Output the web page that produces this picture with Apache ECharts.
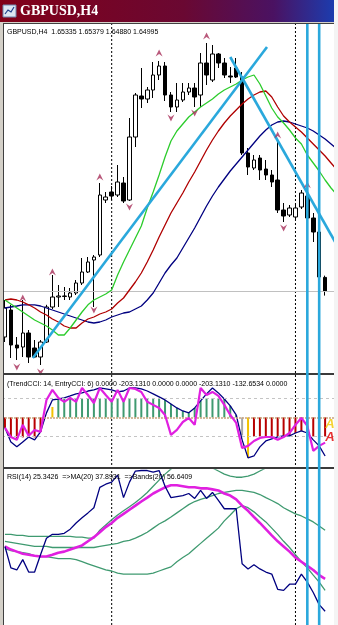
<!DOCTYPE html>
<html>
<head>
<meta charset="utf-8">
<title>GBPUSD,H4</title>
<script src="https://cdn.jsdelivr.net/npm/echarts@6/dist/echarts.min.js"></script>
<style>
  html, body { margin: 0; padding: 0; background: #fff; }
  #chart { width: 338px; height: 625px; }
</style>
</head>
<body>
<div id="chart"></div>
<script>
// 55 H4 bars, one empty slot on the right
const slotCount = 56

const candleOpen = [1.63845, 1.6452, 1.63645, 1.63595, 1.63945, 1.6357, 1.63345, 1.6372, 1.64595, 1.64845,
  1.6487, 1.64845, 1.64945, 1.65195, 1.6547, 1.6577, 1.65895, 1.6727, 1.6747, 1.67395,
  1.67695, 1.6727, 1.68845, 1.6987, 1.69795, 1.7002, 1.70395, 1.7062, 1.69895, 1.69595,
  1.6977, 1.6997, 1.7007, 1.69895, 1.70695, 1.7027, 1.7092, 1.70695, 1.7037, 1.7057,
  1.70345, 1.68445, 1.6807, 1.6832, 1.68045, 1.67895, 1.6777, 1.6702, 1.66895, 1.66845,
  1.67095, 1.6737, 1.6682, 1.6647, 1.65335]
const candleClose = [1.6457, 1.63645, 1.6357, 1.63945, 1.63345, 1.63345, 1.6372, 1.64595, 1.64845, 1.6487,
  1.6486, 1.64945, 1.65195, 1.6547, 1.6572, 1.65845, 1.67395, 1.67345, 1.6737, 1.6772,
  1.67245, 1.68845, 1.69895, 1.69795, 1.7002, 1.70395, 1.7062, 1.69895, 1.69595, 1.6977,
  1.6997, 1.7007, 1.69845, 1.70695, 1.70395, 1.7092, 1.70695, 1.70395, 1.70345, 1.70345,
  1.68445, 1.68095, 1.6827, 1.6802, 1.67895, 1.6772, 1.6702, 1.6687, 1.6707, 1.6707,
  1.67445, 1.6682, 1.6647, 1.65345, 1.64995]
const candleLow = [1.6372, 1.6332, 1.6327, 1.63345, 1.63195, 1.6332, 1.63145, 1.63695, 1.64545, 1.64595,
  1.6477, 1.6477, 1.64895, 1.65145, 1.65445, 1.64595, 1.65845, 1.67195, 1.6727, 1.67345,
  1.67195, 1.67245, 1.68595, 1.6957, 1.69695, 1.6982, 1.7027, 1.69745, 1.6947, 1.6947,
  1.6972, 1.69895, 1.69595, 1.69595, 1.70145, 1.7022, 1.7057, 1.7032, 1.70195, 1.7032,
  1.68395, 1.67895, 1.6802, 1.6777, 1.6777, 1.67595, 1.66945, 1.6672, 1.66845, 1.66795,
  1.67045, 1.6677, 1.6622, 1.65295, 1.6488]
const candleHigh = [1.6477, 1.6465, 1.63845, 1.6477, 1.6402, 1.6377, 1.6377, 1.6465, 1.65395, 1.65145,
  1.65095, 1.6507, 1.6527, 1.6582, 1.65845, 1.65895, 1.67695, 1.6747, 1.6762, 1.68145,
  1.67845, 1.6932, 1.69945, 1.7057, 1.70095, 1.7072, 1.70745, 1.7072, 1.6997, 1.70195,
  1.70195, 1.70195, 1.70195, 1.70945, 1.71195, 1.71145, 1.70945, 1.7082, 1.70595, 1.7082,
  1.7047, 1.6857, 1.68395, 1.68395, 1.6827, 1.6802, 1.6872, 1.67195, 1.67145, 1.67195,
  1.6752, 1.6747, 1.66945, 1.6652, 1.65379]

// alligator lines (shifted forward, so they run past the last bar)
const jawBlue = [1.6457, 1.64595, 1.6462, 1.6465, 1.6465, 1.6465, 1.6462, 1.6457, 1.6452, 1.6447,
  1.6442, 1.6437, 1.6432, 1.6427, 1.6422, 1.64195, 1.6422, 1.6427, 1.64345, 1.64395,
  1.64445, 1.6447, 1.64545, 1.6462, 1.6477, 1.64945, 1.65195, 1.65445, 1.65645, 1.6582,
  1.6607, 1.6632, 1.6657, 1.66845, 1.6712, 1.6737, 1.67595, 1.67795, 1.67995, 1.6817,
  1.68345, 1.6852, 1.68695, 1.6887, 1.6902, 1.69145, 1.6922, 1.69245, 1.6922, 1.6917,
  1.6912, 1.6907, 1.68995, 1.68895, 1.68795, 1.6867, 1.68545]
const teethRed = [1.6477, 1.64795, 1.6477, 1.6472, 1.6465, 1.6457, 1.6447, 1.64395, 1.64295, 1.6422,
  1.6412, 1.6407, 1.6407, 1.64195, 1.64295, 1.64345, 1.6442, 1.6447, 1.64545, 1.64695,
  1.6482, 1.6502, 1.6522, 1.65445, 1.6572, 1.6602, 1.66345, 1.66645, 1.66945, 1.67195,
  1.67445, 1.6772, 1.6797, 1.68245, 1.6852, 1.6877, 1.68995, 1.69195, 1.6937, 1.6952,
  1.6967, 1.69795, 1.69895, 1.6997, 1.69995, 1.69845, 1.69595, 1.6937, 1.6922, 1.69095,
  1.6897, 1.6882, 1.6867, 1.6852, 1.6837, 1.68195, 1.6802]
const lipsGreen = [1.6477, 1.6467, 1.6457, 1.6447, 1.6437, 1.6427, 1.64195, 1.6412, 1.6402, 1.63895,
  1.63895, 1.6407, 1.6427, 1.6447, 1.6465, 1.6477, 1.64845, 1.6492, 1.6502, 1.65395,
  1.6572, 1.6602, 1.6632, 1.6662, 1.6707, 1.6747, 1.67895, 1.68345, 1.68745, 1.68995,
  1.6917, 1.69345, 1.6947, 1.69595, 1.69695, 1.69795, 1.6992, 1.7002, 1.70095, 1.7017,
  1.7027, 1.70345, 1.70395, 1.7017, 1.6987, 1.6957, 1.69345, 1.69195, 1.6902, 1.6882,
  1.6867, 1.68395, 1.68195, 1.67995, 1.6777, 1.6757, 1.67395]

const trendLineUp = [[4.7, 1.6332], [44.2, 1.71095]]
const trendLineDown = [[38.0, 1.70845], [55.7, 1.6622]]

const fractalUpBar = [3, 8, 16, 26, 34, 46, 51]
const fractalUpPrice = [1.6482, 1.6547, 1.67845, 1.70945, 1.7137, 1.68895, 1.6765]
const fractalDownBar = [2, 6, 15, 21, 28, 32, 47]
const fractalDownPrice = [1.63095, 1.6297, 1.6452, 1.67095, 1.6932, 1.69445, 1.6657]

const bidPrice = 1.64995
const periodSeparators = [18, 49]
const cyanVerticals = [51, 53]

// TrendCCI(14) / EntryCCI(6)
const cciTrend = [-55, -129, -155, -129, -103, -118, -76, 24, 92, 97,
  103, 113, 124, 129, 139, 145, 155, 150, 145, 134,
  139, 155, 155, 150, 139, 124, 108, 92, 71, 50,
  34, 24, 50, 87, 124, 155, 129, 97, 61, 13,
  -118, -213, -203, -155, -124, -113, -103, -97, -97, -82,
  -71, -82, -118, -150, -203.131]
const cciEntry = [-55, -103, -118, -39, -97, -66, -76, 92, 145, 103,
  82, 103, 82, 155, 118, 76, 155, 118, 82, 145,
  82, 155, 150, 134, 82, 66, 50, 13, -92, -66,
  -24, -3, -39, 155, 118, 134, 113, 66, 13, -29,
  -161, -150, -124, -108, -103, -103, -118, -103, -82, -39,
  -3, -45, -176, -150, -132.6534]
const cciHist = [-55, -105, -110, -105, -100, -105, -76, 0, 55, 97,
  100, 100, 100, 100, 100, 100, 100, 100, 100, 100,
  100, 100, 100, 100, 100, 100, 100, 92, 71, 50,
  34, 24, 50, 87, 100, 100, 100, 97, 61, 13,
  -95, -213, -100, -100, -100, -100, -100, -97, -97, -82,
  -71, -82, -100, -100, -100]
// R = down, G = up, Y = turning, N = neutral
const cciHistState = 'RRRRRRRRYGGGGGGGGGGGGGGGGGGGGGGGGGGGGGGGNYRRRRRRRRRRRRR'.split('')
const cciLevels = [100, -100]
const cciTextMarks = [
  { bar: 54.8, value: -39, color: '#f2c800' },
  { bar: 54.8, value: -105, color: '#e00000' }
]

// RSI(14) with MA(20) and bands(20)
const rsi = [50.4, 42.1, 41.3, 45.3, 40.5, 40.5, 47.2, 53.6, 55.1, 55.1,
  55.5, 57.1, 59.5, 61.5, 63.4, 65.4, 73.3, 74.5, 75.3, 78.0,
  69.3, 75.3, 79.6, 79.8, 79.8, 79.2, 79.8, 73.7, 69.3, 69.7,
  70.1, 70.9, 69.0, 72.1, 69.0, 71.3, 68.2, 65.0, 65.0, 65.0,
  43.7, 41.7, 43.3, 41.7, 40.5, 39.7, 33.8, 33.4, 35.8, 35.8,
  39.7, 36.6, 32.6, 27.9, 25.3426]
const rsiMa = [50.4, 49.2, 48.4, 47.6, 47.2, 46.8, 46.5, 46.5, 47.2, 48.0,
  48.4, 49.2, 50.0, 50.8, 52.4, 54.0, 55.9, 57.9, 59.5, 61.5,
  63.0, 64.6, 66.2, 67.8, 69.3, 70.9, 72.1, 73.3, 74.1, 74.1,
  73.7, 73.3, 73.3, 72.9, 72.9, 72.5, 72.1, 70.9, 70.1, 68.6,
  66.2, 64.2, 61.8, 59.5, 57.1, 54.7, 52.4, 50.4, 48.4, 46.1,
  44.5, 42.9, 41.3, 39.3, 37.8931]
const bandUpper = [55.1, 55.1, 54.7, 54.7, 54.3, 54.3, 54.3, 54.3, 54.3, 54.3,
  54.3, 54.3, 54.0, 54.0, 53.6, 53.6, 56.7, 58.7, 60.7, 62.6,
  64.2, 65.8, 67.4, 69.3, 71.3, 73.7, 76.1, 78.4, 80.4, 82.0,
  83.2, 84.0, 84.0, 83.2, 82.0, 80.8, 79.6, 78.4, 77.6, 77.2,
  77.2, 77.6, 78.4, 79.6, 80.8, 82.0, 83.2, 84.0, 84.4, 84.7,
  84.7, 84.4, 83.6, 82.4, 81.2]
const bandMiddle = [52.4, 52.0, 51.6, 51.2, 50.8, 50.4, 50.4, 50.4, 50.0, 50.0,
  50.0, 50.0, 50.0, 50.0, 50.0, 50.0, 50.4, 50.8, 51.2, 51.6,
  52.4, 52.8, 53.6, 54.7, 55.9, 57.5, 59.1, 60.3, 61.8, 63.4,
  65.0, 66.6, 67.8, 68.6, 69.3, 70.1, 70.9, 71.3, 71.7, 72.1,
  72.1, 71.7, 71.3, 70.5, 69.3, 68.2, 67.0, 65.4, 64.2, 63.0,
  62.2, 61.1, 59.9, 58.3, 56.6409]
const bandLower = [49.6, 48.8, 48.4, 48.0, 47.6, 46.8, 46.5, 46.5, 46.1, 45.7,
  45.7, 45.7, 45.3, 44.5, 43.7, 42.9, 42.1, 41.3, 40.9, 40.1,
  39.7, 39.7, 39.7, 39.7, 39.7, 40.1, 40.9, 41.7, 42.5, 44.5,
  46.1, 47.6, 49.6, 51.6, 53.6, 55.5, 57.5, 60.3, 62.6, 65.0,
  66.2, 65.4, 63.8, 61.8, 59.9, 57.5, 55.1, 52.4, 50.0, 47.2,
  44.5, 42.1, 39.3, 36.6, 33.4]

const mainLabel = 'GBPUSD,H4  1.65335 1.65379 1.64880 1.64995'
const cciLabel = '(TrendCCI: 14, EntryCCI: 6) 0.0000 -203.1310 0.0000 0.0000 -203.1310 -132.6534 0.0000'
const rsiLabel = 'RSI(14) 25.3426  =>MA(20) 37.8931  =>Bands(20) 56.6409'

const chart = echarts.init(document.getElementById('chart'), null, { renderer: 'canvas' })

const FONT = '"Liberation Sans", Arial, sans-serif'
const slots = Array.from({ length: slotCount }, (_, i) => String(i))
const pairs = arr => arr.map((v, i) => [i, v])

const histColors = { R: '#b80000', G: '#3f9a70', Y: '#f2c200', N: '#a8a8a8' }

const valueX = (gridIndex) => ({
  type: 'value', gridIndex, min: -0.5, max: slotCount - 0.5, show: false
})
const catX = (gridIndex) => ({
  type: 'category', gridIndex, data: slots, boundaryGap: true, show: false
})

const line = (data, xAxisIndex, yAxisIndex, color, width, z) => ({
  type: 'line', xAxisIndex, yAxisIndex, data, symbol: 'none', silent: true,
  z: z || 3,
  lineStyle: { color, width }
})

const vertical = (x, style, z) => ({
  type: 'line', xAxisIndex: 5, yAxisIndex: 3, z, silent: true,
  data: [[x, 0], [x, 1]], symbol: 'none', lineStyle: style
})

const option = {
  animation: false,
  backgroundColor: '#ffffff',
  grid: [
    { left: 2, width: 332, top: 25, height: 348 },
    { left: 2, width: 332, top: 376, height: 91 },
    { left: 2, width: 332, top: 470, height: 155 },
    { left: 2, width: 332, top: 24, height: 601 }
  ],
  xAxis: [catX(0), valueX(0), catX(1), valueX(1), valueX(2), valueX(3)],
  yAxis: [
    { type: 'value', gridIndex: 0, min: 1.62945, max: 1.71645, show: false },
    { type: 'value', gridIndex: 1, min: -261, max: 218, show: false },
    { type: 'value', gridIndex: 2, min: 20, max: 80, show: false },
    { type: 'value', gridIndex: 3, min: 0, max: 1, show: false }
  ],
  series: [
    // main window
    {
      type: 'candlestick', xAxisIndex: 0, yAxisIndex: 0, barWidth: 4, z: 4,
      data: candleOpen.map((o, i) => [o, candleClose[i], candleLow[i], candleHigh[i]]),
      itemStyle: { color: '#ffffff', color0: '#000000', borderColor: '#000000', borderColor0: '#000000', borderWidth: 1 },
      markLine: {
        silent: true, symbol: 'none', label: { show: false },
        lineStyle: { color: '#c0c0c0', type: 'solid', width: 1 },
        data: [{ yAxis: bidPrice }]
      }
    },
    line(pairs(jawBlue), 1, 0, '#000080', 1.3, 5),
    line(pairs(teethRed), 1, 0, '#b00000', 1.3, 5),
    line(pairs(lipsGreen), 1, 0, '#2ccc2c', 1.3, 5),
    line(trendLineUp, 1, 0, '#2aa8dc', 2.6, 6),
    line(trendLineDown, 1, 0, '#2aa8dc', 2.6, 6),
    {
      type: 'scatter', xAxisIndex: 1, yAxisIndex: 0, z: 6, silent: true,
      symbol: 'path://M5,0 L10,10 L5,6.5 L0,10 Z', symbolSize: [7, 7],
      itemStyle: { color: '#a8305a' },
      data: fractalUpBar.map((b, i) => [b, fractalUpPrice[i]])
    },
    {
      type: 'scatter', xAxisIndex: 1, yAxisIndex: 0, z: 6, silent: true,
      symbol: 'path://M0,0 L5,3.5 L10,0 L5,10 Z', symbolSize: [7, 7],
      itemStyle: { color: '#a8305a' },
      data: fractalDownBar.map((b, i) => [b, fractalDownPrice[i]])
    },

    // TrendCCI window
    {
      type: 'bar', xAxisIndex: 2, yAxisIndex: 1, barWidth: 2, z: 3, silent: true,
      data: cciHist.map((v, i) => ({ value: v, itemStyle: { color: histColors[cciHistState[i]] } })),
      markLine: {
        silent: true, symbol: 'none', label: { show: false },
        data: [
          ...cciLevels.map(v => ({ yAxis: v, lineStyle: { color: '#c4c4c4', type: [3, 3], width: 1 } })),
          { yAxis: 0, lineStyle: { color: '#c8a47c', type: [2, 1], width: 1.5 } }
        ]
      }
    },
    line(pairs(cciTrend), 3, 1, '#000080', 1.3, 4),
    line(pairs(cciEntry), 3, 1, '#e020e0', 2.2, 5),
    {
      type: 'scatter', xAxisIndex: 3, yAxisIndex: 1, z: 7, silent: true, symbolSize: 0,
      data: cciTextMarks.map(m => ({
        value: [m.bar, m.value],
        label: {
          show: true, position: 'inside', formatter: 'A', color: m.color,
          fontFamily: FONT, fontWeight: 'bold', fontStyle: 'italic', fontSize: 13
        }
      }))
    },

    // RSI window
    line(pairs(bandUpper), 4, 2, '#3f9a70', 1.3, 3),
    line(pairs(bandMiddle), 4, 2, '#3f9a70', 1.3, 3),
    line(pairs(bandLower), 4, 2, '#3f9a70', 1.3, 3),
    line(pairs(rsiMa), 4, 2, '#e020e0', 2.6, 4),
    line(pairs(rsi), 4, 2, '#000080', 1.3, 5),

    // separators and marker lines across all windows
    ...periodSeparators.map(x => vertical(x, { color: '#000000', width: 1, type: [2, 2] }, 2)),
    ...cyanVerticals.map(x => vertical(x, { color: '#2aa8dc', width: 2.6 }, 10))
  ],
  graphic: [
    // window caption
    {
      type: 'rect', z: 30, shape: { x: 0, y: 0, width: 334, height: 22 },
      style: {
        fill: new echarts.graphic.LinearGradient(0, 0, 1, 0, [
          { offset: 0, color: '#820018' },
          { offset: 0.55, color: '#6a0832' },
          { offset: 0.82, color: '#4a1262' },
          { offset: 1, color: '#1c3cae' }
        ])
      }
    },
    { type: 'rect', z: 30, shape: { x: 334, y: 0, width: 4, height: 625 }, style: { fill: '#f4f4f4' } },
    { type: 'rect', z: 31, shape: { x: 3, y: 5, width: 13, height: 12 }, style: { fill: '#dce6f2', stroke: '#6f86ad', lineWidth: 1 } },
    { type: 'polyline', z: 32, shape: { points: [[5, 14], [8, 10], [11, 12], [14, 7]] }, style: { stroke: '#1d3f8a', lineWidth: 1.2, fill: null } },
    {
      type: 'text', z: 31, x: 20, y: 11,
      style: { text: 'GBPUSD,H4', fill: '#ffffff', font: 'bold 14px "Liberation Serif", "Times New Roman", serif', verticalAlign: 'middle' }
    },
    { type: 'rect', z: 30, shape: { x: 0, y: 22, width: 334, height: 1 }, style: { fill: '#d4d0c8' } },
    // frame
    { type: 'rect', z: 20, shape: { x: 0, y: 22, width: 3, height: 603 }, style: { fill: '#d4d0c8' } },
    { type: 'rect', z: 20, shape: { x: 3, y: 23, width: 1, height: 602 }, style: { fill: '#404040' } },
    { type: 'rect', z: 20, shape: { x: 3, y: 23, width: 331, height: 1 }, style: { fill: '#404040' } },
    { type: 'rect', z: 8, shape: { x: 3, y: 373, width: 331, height: 2 }, style: { fill: '#3a3a3a' } },
    { type: 'rect', z: 8, shape: { x: 3, y: 467, width: 331, height: 2 }, style: { fill: '#3a3a3a' } },
    // window labels
    { type: 'text', z: 20, x: 7, y: 32, style: { text: mainLabel, fill: '#000', font: '7px ' + FONT, verticalAlign: 'middle' } },
    { type: 'text', z: 20, x: 7, y: 384, style: { text: cciLabel, fill: '#000', font: '7px ' + FONT, verticalAlign: 'middle' } },
    { type: 'text', z: 20, x: 7, y: 477, style: { text: rsiLabel, fill: '#000', font: '7px ' + FONT, verticalAlign: 'middle' } }
  ]
}

chart.setOption(option)
</script>
</body>
</html>
